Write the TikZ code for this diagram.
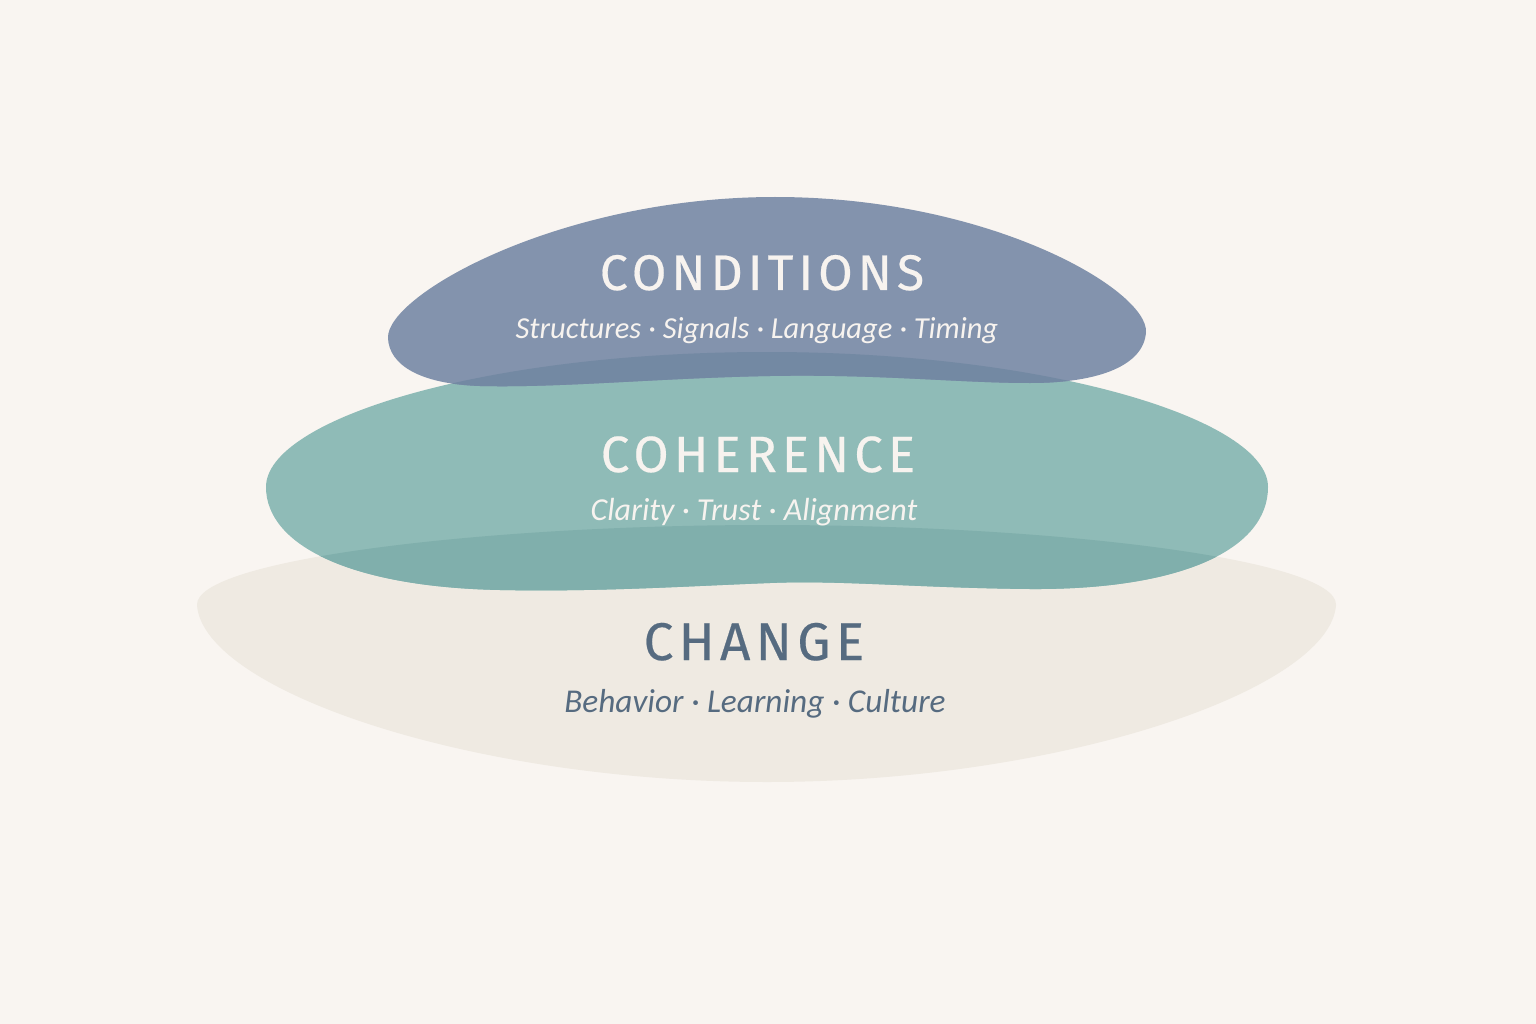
\documentclass[tikz,border=0pt]{standalone}
\usepackage{fontspec}
\setmainfont{Fira Sans}
\newfontfamily\titlefont[LetterSpace=10,FakeBold=0.4]{Fira Sans}
\newfontfamily\subfont{Carlito}
\usetikzlibrary{calc}
\definecolor{bgc}{HTML}{F9F5F1}
\definecolor{topc}{HTML}{8393AD}
\definecolor{midc}{HTML}{8FBBB7}
\definecolor{botc}{HTML}{EFEAE2}
\definecolor{ovtm}{HTML}{7389A3}
\definecolor{ovmb}{HTML}{80AFAC}
\definecolor{lighttext}{HTML}{F7F3EF}
\definecolor{darktext}{HTML}{566B80}
\def\pathTop{(388,338) .. controls (386,295) and (560,197) .. (775,197) .. controls (990,197) and (1148,290) .. (1146,332) .. controls (1144,365) and (1100,383) .. (1030,383) .. controls (960,383) and (880,374) .. (770,376) .. controls (660,378) and (560,388) .. (480,386) .. controls (420,384) and (389,365) .. (388,338) -- cycle}
\def\pathMid{(266,487) .. controls (266,420) and (480,352) .. (767,352) .. controls (1050,352) and (1268,420) .. (1268,487) .. controls (1268,550) and (1180,590) .. (1030,589) .. controls (920,588) and (840,580) .. (770,583) .. controls (690,586) and (600,592) .. (500,590) .. controls (350,587) and (266,545) .. (266,487) -- cycle}
\def\pathBot{(197,605) .. controls (195,560) and (480,525) .. (767,525) .. controls (1060,525) and (1338,560) .. (1336,605) .. controls (1330,690) and (1060,782) .. (767,782) .. controls (470,782) and (203,690) .. (197,605) -- cycle}
\tikzset{
  title/.style={anchor=base, inner sep=0pt, font=\titlefont\fontsize{50}{50}\selectfont},
  subtitle/.style={anchor=base, inner sep=0pt, font=\subfont\itshape\fontsize{32}{32}\selectfont},
}
\begin{document}
\begin{tikzpicture}[x=1pt,y=-1pt]
\useasboundingbox (0,0) rectangle (1536,1024);
\fill[bgc] (0,0) rectangle (1536,1024);
\fill[botc] \pathBot;
\fill[midc] \pathMid;
\fill[topc] \pathTop;
\begin{scope}
  \clip \pathMid;
  \fill[ovtm] \pathTop;
\end{scope}
\begin{scope}
  \clip \pathBot;
  \fill[ovmb] \pathMid;
\end{scope}
\node[title, text=lighttext] (tcond) at (762,290) {CONDITIONS};
\node[subtitle, text=lighttext, font=\subfont\itshape\fontsize{30.5}{30.5}\selectfont] (scond) at (757,338) {Structures · Signals · Language · Timing};
\node[title, text=lighttext, font=\titlefont\fontsize{51}{51}\selectfont] (tcoh) at (758,472) {COHERENCE};
\node[subtitle, text=lighttext] (scoh) at (754,520) {Clarity · Trust · Alignment};
\node[title, text=darktext, font=\titlefont\fontsize{53}{53}\selectfont] (tchg) at (754,660) {CHANGE};
\node[subtitle, text=darktext, font=\subfont\itshape\fontsize{33.3}{33.3}\selectfont] (schg) at (755,712) {Behavior · Learning · Culture};
\end{tikzpicture}
\end{document}
